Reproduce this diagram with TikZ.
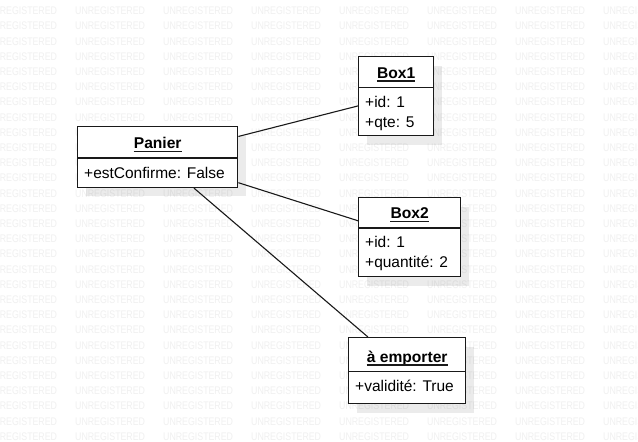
\documentclass[tikz,border=0pt]{standalone}
\usepackage{fontspec}
\setmainfont{Liberation Sans}
\usetikzlibrary{shadows,calc}
\begin{document}
\begin{tikzpicture}[x=1pt,y=-1pt,
  classbox/.style={draw=black!90, line width=1.4pt, fill=white, inner sep=0pt,
    general shadow={fill=black, opacity=0.08, shadow xshift=8.5pt, shadow yshift=-9pt}},
  divline/.style={draw=black!90, line width=1.2pt},
  titletext/.style={inner sep=0pt, anchor=base, font=\fontsize{15.6}{18}\selectfont\bfseries},
  attrtext/.style={inner sep=0pt, anchor=base west, font=\fontsize{15.5}{18}\selectfont},
  uline/.style={draw=black!90, line width=1.1pt},
  link/.style={draw=black!90, line width=1.1pt},
  wmark/.style={inner sep=0pt, anchor=west, text=black!6, xscale=0.8, font=\fontsize{11}{13}\selectfont}
]
\useasboundingbox (0,0) rectangle (638,442);
\fill[white] (0,0) rectangle (638,442);
% watermark
\foreach \k in {0,...,28}{
  \foreach \j in {0,...,7}{
    \node[wmark] (wm-\j-\k) at ({-13+88*\j},{11+15.2*\k}) {UNREGISTERED};
  }
}
% Panier
\node[classbox, minimum width=160pt, minimum height=60.7pt, anchor=north west] (panier) at (77,126) {};
\draw[divline] ($(panier.north west)+(0,32)$) -- ($(panier.north east)+(0,32)$);
\node[titletext] (panierT) at ($(panier.north)+(0,22.5)$) {Panier};
\draw[uline] ([yshift=-2.8pt]panierT.base west) -- ([yshift=-2.8pt]panierT.base east);
\node[attrtext] (panierA) at ($(panier.north west)+(7,52.5)$) {+estConfirme: False};
% Box1
\node[classbox, minimum width=75pt, minimum height=79pt, anchor=north west] (box1) at (358,56) {};
\draw[divline] ($(box1.north west)+(0,31.7)$) -- ($(box1.north east)+(0,31.7)$);
\node[titletext] (box1T) at ($(box1.north)+(0,22.2)$) {Box1};
\draw[uline] ([yshift=-2.8pt]box1T.base west) -- ([yshift=-2.8pt]box1T.base east);
\node[attrtext] (box1A) at ($(box1.north west)+(7,51)$) {+id: 1};
\node[attrtext] (box1B) at ($(box1.north west)+(7,71)$) {+qte: 5};
% Box2
\node[classbox, minimum width=102pt, minimum height=79pt, anchor=north west] (box2) at (358,197) {};
\draw[divline] ($(box2.north west)+(0,31)$) -- ($(box2.north east)+(0,31)$);
\node[titletext] (box2T) at ($(box2.north)+(0,21.8)$) {Box2};
\draw[uline] ([yshift=-2.8pt]box2T.base west) -- ([yshift=-2.8pt]box2T.base east);
\node[attrtext] (box2A) at ($(box2.north west)+(7,50)$) {+id: 1};
\node[attrtext] (box2B) at ($(box2.north west)+(7,70)$) {+quantité: 2};
% a emporter
\node[classbox, minimum width=117pt, minimum height=66pt, anchor=north west] (empo) at (348,337) {};
\draw[divline] ($(empo.north west)+(0,34.7)$) -- ($(empo.north east)+(0,34.7)$);
\node[titletext] (empoT) at ($(empo.north)+(0,25.2)$) {à emporter};
\draw[uline] ([yshift=-2.8pt]empoT.base west) -- ([yshift=-2.8pt]empoT.base east);
\node[attrtext] (empoA) at ($(empo.north west)+(7,54.5)$) {+validité: True};
% links
\draw[link] (panier) -- (box1);
\draw[link] (panier) -- (box2);
\draw[link] (panier) -- (empo);
\end{tikzpicture}
\end{document}
